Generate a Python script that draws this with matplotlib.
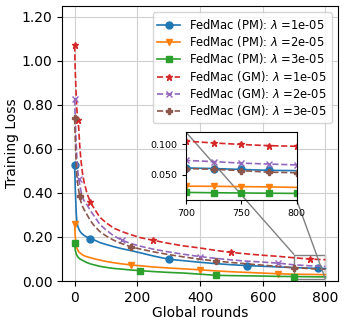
import matplotlib
matplotlib.use("Agg")
import matplotlib.pyplot as plt
from matplotlib.ticker import FormatStrFormatter
from mpl_toolkits.axes_grid1.inset_locator import mark_inset

rounds = [0, 2, 5, 7, 10, 13, 16, 20, 25, 30, 40, 50, 60, 80, 100, 125, 150, 180, 210,
          250, 300, 350, 400, 450, 500, 550, 600, 650, 700, 725, 750, 775, 800]

pm_1e5 = [0.525, 0.42, 0.31, 0.27, 0.25, 0.237, 0.228, 0.22, 0.213, 0.207, 0.199, 0.193, 0.188,
          0.175, 0.166, 0.156, 0.147, 0.138, 0.128, 0.114, 0.099, 0.092, 0.085, 0.079, 0.074,
          0.070, 0.067, 0.064, 0.061, 0.060, 0.0585, 0.057, 0.0565]
pm_2e5 = [0.257, 0.20, 0.165, 0.15, 0.14, 0.133, 0.129, 0.124, 0.119, 0.115, 0.11, 0.106, 0.102,
          0.095, 0.089, 0.083, 0.078, 0.073, 0.069, 0.064, 0.059, 0.055, 0.051, 0.046, 0.042,
          0.039, 0.036, 0.033, 0.0307, 0.0305, 0.030, 0.0295, 0.0287]
pm_3e5 = [0.173, 0.14, 0.124, 0.117, 0.11, 0.105, 0.101, 0.098, 0.094, 0.09, 0.083, 0.078, 0.074,
          0.067, 0.062, 0.057, 0.054, 0.050, 0.047, 0.043, 0.039, 0.036, 0.031, 0.026, 0.0245,
          0.0235, 0.0225, 0.021, 0.0203, 0.0198, 0.0194, 0.019, 0.0187]
gm_1e5 = [1.07, 0.95, 0.84, 0.78, 0.73, 0.695, 0.62, 0.55, 0.49, 0.45, 0.395, 0.36, 0.335,
          0.29, 0.265, 0.24, 0.225, 0.21, 0.197, 0.185, 0.171, 0.159, 0.150, 0.139, 0.130,
          0.123, 0.117, 0.112, 0.1055, 0.1025, 0.100, 0.098, 0.097]
gm_2e5 = [0.825, 0.72, 0.62, 0.56, 0.50, 0.465, 0.44, 0.41, 0.38, 0.365, 0.345, 0.32, 0.30,
          0.258, 0.232, 0.205, 0.186, 0.17, 0.158, 0.145, 0.132, 0.121, 0.111, 0.103, 0.096,
          0.090, 0.086, 0.081, 0.0735, 0.0715, 0.069, 0.0675, 0.066]
gm_3e5 = [0.74, 0.64, 0.53, 0.48, 0.44, 0.41, 0.385, 0.36, 0.34, 0.325, 0.30, 0.275, 0.255,
          0.225, 0.205, 0.185, 0.17, 0.155, 0.145, 0.133, 0.12, 0.109, 0.099, 0.091, 0.084,
          0.078, 0.072, 0.066, 0.060, 0.0588, 0.0565, 0.054, 0.053]

series = [
    ("FedMac (PM): $\\lambda$ =1e-05", pm_1e5, "C0", "-", "o"),
    ("FedMac (PM): $\\lambda$ =2e-05", pm_2e5, "C1", "-", "v"),
    ("FedMac (PM): $\\lambda$ =3e-05", pm_3e5, "C2", "-", "s"),
    ("FedMac (GM): $\\lambda$ =1e-05", gm_1e5, "C3", "--", "*"),
    ("FedMac (GM): $\\lambda$ =2e-05", gm_2e5, "C4", "--", "x"),
    ("FedMac (GM): $\\lambda$ =3e-05", gm_3e5, "C5", "--", "P"),
]

fig = plt.figure(figsize=(3.47, 3.26), dpi=100)
ax = fig.add_axes([0.179, 0.138, 0.795, 0.844])

for label, vals, color, ls, mk in series:
    ax.plot(rounds, vals, color=color, linestyle=ls, marker=mk, markersize=5,
            linewidth=1.2, markevery=0.2, label=label)

ax.set_ylim(0, 1.25)
ax.set_yticks([0.0, 0.2, 0.4, 0.6, 0.8, 1.0, 1.2])
ax.set_xticks([0, 200, 400, 600, 800])
ax.yaxis.set_major_formatter(FormatStrFormatter('%.2f'))
ax.grid(True, color='#d0d0d0', linewidth=0.8)
ax.tick_params(labelsize=10)
ax.set_xlabel("Global rounds", fontsize=10, labelpad=1)
ax.set_ylabel("Training Loss", fontsize=10, labelpad=2)
ax.legend(loc='upper right', fontsize=8.3, handlelength=2.0, borderaxespad=0.55,
          labelspacing=0.2, borderpad=0.4)

axins = ax.inset_axes([0.45, 0.295, 0.40, 0.245])
for label, vals, color, ls, mk in series:
    axins.plot(rounds, vals, color=color, linestyle=ls, marker=mk, markersize=5,
               linewidth=1.2, markevery=0.2)
axins.set_xlim(700, 800)
axins.set_ylim(0.008, 0.12)
axins.set_xticks([700, 750, 800])
axins.set_yticks([0.05, 0.10])
axins.yaxis.set_major_formatter(FormatStrFormatter('%.3f'))
axins.tick_params(labelsize=6.8, length=3)
mark_inset(ax, axins, loc1=2, loc2=4, fc="none", ec="0.5")

fig.savefig("out.png", dpi=100)
